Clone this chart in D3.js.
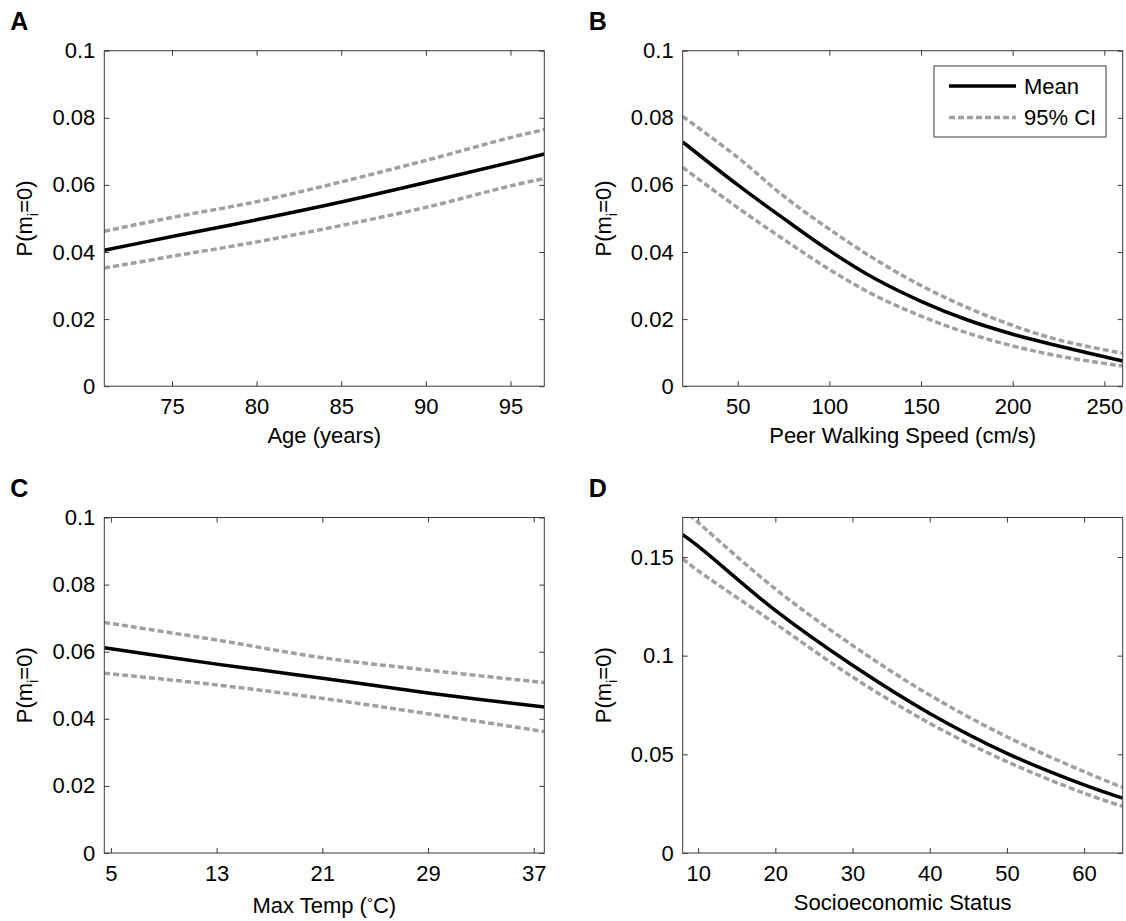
<!DOCTYPE html>
<html>
<head>
<meta charset="utf-8">
<script src="https://cdn.jsdelivr.net/npm/d3@7"></script>
<style>
  html, body { margin: 0; padding: 0; background: #fff; }
  svg { display: block; font-family: "Liberation Sans", Arial, sans-serif; }
</style>
</head>
<body>
<svg id="chart" width="1126" height="921"></svg>
<script>
// ---- Data ----
const panelLetters = ["A", "B", "C", "D"];
const xLabels = ["Age (years)", "Peer Walking Speed (cm/s)", "Max Temp (°C)", "Socioeconomic Status"];

const ageX     = [71, 75, 80, 85, 90, 95, 97];
const ageMean  = [0.0405, 0.0446, 0.0496, 0.0549, 0.0607, 0.0667, 0.0692];
const ageUpper = [0.0462, 0.0503, 0.0550, 0.0609, 0.0673, 0.0741, 0.0765];
const ageLower = [0.0352, 0.0387, 0.0430, 0.0479, 0.0533, 0.0597, 0.0619];
const ageTicks = [75, 80, 85, 90, 95];

const speedX     = [20, 50, 75, 100, 125, 150, 175, 200, 225, 260];
const speedMean  = [0.0728, 0.0600, 0.0500, 0.0404, 0.0320, 0.0253, 0.0198, 0.0155, 0.0120, 0.0075];
const speedUpper = [0.0804, 0.0682, 0.0567, 0.0468, 0.0378, 0.0300, 0.0235, 0.0181, 0.0138, 0.0098];
const speedLower = [0.0652, 0.0532, 0.0438, 0.0348, 0.0270, 0.0209, 0.0159, 0.0120, 0.0090, 0.0060];
const speedTicks = [50, 100, 150, 200, 250];

const tempX     = [4.5, 13, 21, 29, 37.8];
const tempMean  = [0.0612, 0.0563, 0.0521, 0.0477, 0.0435];
const tempUpper = [0.0687, 0.0635, 0.0582, 0.0545, 0.0508];
const tempLower = [0.0536, 0.0501, 0.0461, 0.0415, 0.0362];
const tempTicks = [5, 13, 21, 29, 37];

const sesX     = [8, 10, 20, 30, 40, 50, 60, 65];
const sesMean  = [0.1613, 0.1555, 0.1229, 0.0951, 0.0707, 0.0505, 0.0345, 0.0278];
const sesUpper = [0.1745, 0.1675, 0.1338, 0.1052, 0.0800, 0.0589, 0.0412, 0.0332];
const sesLower = [0.1490, 0.1430, 0.1162, 0.0892, 0.0657, 0.0463, 0.0303, 0.0236];
const sesTicks = [10, 20, 30, 40, 50, 60];

const yTicksSmall = [0, 0.02, 0.04, 0.06, 0.08, 0.1];
const yTicksSES   = [0, 0.05, 0.1, 0.15];

const legendLabels = ["Mean", "95% CI"];

// ---- Layout ----
const svg = d3.select("#chart");
const FS = 22;
const W = 440, H = 335.5;
const panels = [
  { letter: panelLetters[0], left: 104.3, top: 50.7, xDom: [71, 97], yDom: [0, 0.1], x: ageX, mean: ageMean, up: ageUpper, lo: ageLower, xt: ageTicks, yt: yTicksSmall, xl: xLabels[0], legend: false, labelOff: 57 },
  { letter: panelLetters[1], left: 682.7, top: 50.7, xDom: [20, 260], yDom: [0, 0.1], x: speedX, mean: speedMean, up: speedUpper, lo: speedLower, xt: speedTicks, yt: yTicksSmall, xl: xLabels[1], legend: true, labelOff: 57 },
  { letter: panelLetters[2], left: 104.3, top: 517.5, xDom: [4.5, 37.8], yDom: [0, 0.1], x: tempX, mean: tempMean, up: tempUpper, lo: tempLower, xt: tempTicks, yt: yTicksSmall, xl: xLabels[2], legend: false, labelOff: 60, degree: true },
  { letter: panelLetters[3], left: 682.7, top: 517.5, xDom: [8, 65], yDom: [0, 0.17], x: sesX, mean: sesMean, up: sesUpper, lo: sesLower, xt: sesTicks, yt: yTicksSES, xl: xLabels[3], legend: false, labelOff: 57 }
];

const axisColor = "#3a3a3a";
const ciColor = "#a0a0a0";
const fmtY = v => (v === 0 ? "0" : d3.format("")(+v.toFixed(3)));

panels.forEach((p, i) => {
  const g = svg.append("g").attr("transform", `translate(${p.left},${p.top})`);
  const xs = d3.scaleLinear().domain(p.xDom).range([0, W]);
  const ys = d3.scaleLinear().domain(p.yDom).range([H, 0]);

  const clipId = "clip" + i;
  svg.append("defs").append("clipPath").attr("id", clipId)
    .append("rect").attr("x", 0).attr("y", 0).attr("width", W).attr("height", H);

  // axes
  const styleAxis = sel => {
    sel.select(".domain").remove();
    sel.selectAll(".tick line").attr("stroke", axisColor).attr("stroke-width", 1);
    sel.selectAll(".tick text").attr("fill", "#000").style("font-size", FS + "px").style("font-family", "'Liberation Sans', Arial, sans-serif");
  };
  g.append("g").attr("transform", `translate(0,${H})`)
    .call(d3.axisBottom(xs).tickValues(p.xt).tickSizeInner(-5).tickSizeOuter(0).tickPadding(12.5).tickFormat(d3.format("d")))
    .call(styleAxis);
  g.append("g")
    .call(d3.axisTop(xs).tickValues(p.xt).tickSizeInner(-5).tickSizeOuter(0).tickFormat(""))
    .call(styleAxis);
  g.append("g")
    .call(d3.axisLeft(ys).tickValues(p.yt).tickSizeInner(-5).tickSizeOuter(0).tickPadding(9).tickFormat(fmtY))
    .call(styleAxis);
  g.append("g").attr("transform", `translate(${W},0)`)
    .call(d3.axisRight(ys).tickValues(p.yt).tickSizeInner(-5).tickSizeOuter(0).tickFormat(""))
    .call(styleAxis);

  // lines
  const pts = arr => p.x.map((xv, k) => [xv, arr[k]]);
  const line = d3.line().x(d => xs(d[0])).y(d => ys(d[1])).curve(d3.curveCatmullRom.alpha(0.5));
  const lg = g.append("g").attr("clip-path", `url(#${clipId})`);
  [p.up, p.lo].forEach(arr => {
    lg.append("path").attr("d", line(pts(arr)))
      .attr("fill", "none").attr("stroke", ciColor).attr("stroke-width", 3.5)
      .attr("stroke-dasharray", "6,3");
  });
  lg.append("path").attr("d", line(pts(p.mean)))
    .attr("fill", "none").attr("stroke", "#000").attr("stroke-width", 3.5);

  // frame
  g.append("rect").attr("x", 0).attr("y", 0).attr("width", W).attr("height", H)
    .attr("fill", "none").attr("stroke", axisColor).attr("stroke-width", 1);

  // x label
  const xt = g.append("text").attr("x", W / 2).attr("y", H + p.labelOff)
    .attr("text-anchor", "middle").style("font-size", FS + "px").attr("fill", "#000");
  if (p.degree) {
    xt.append("tspan").text("Max Temp (");
    xt.append("tspan").text("°").attr("dy", -5).style("font-size", "15px");
    xt.append("tspan").text("C)").attr("dy", 5);
  } else {
    xt.text(p.xl);
  }

  // y label
  const yl = g.append("text")
    .attr("transform", `translate(-72,${H / 2}) rotate(-90)`)
    .attr("text-anchor", "middle").style("font-size", FS + "px").attr("fill", "#000");
  yl.append("tspan").text("P(m");
  yl.append("tspan").text("i").attr("dy", 6).style("font-size", "15px");
  yl.append("tspan").text("=0)").attr("dy", -6);

  // panel letter
  svg.append("text").attr("x", p.left - 94).attr("y", p.top - 21)
    .style("font-size", "25px").style("font-weight", "bold").attr("fill", "#000")
    .text(p.letter);

  // legend
  if (p.legend) {
    const lx = 934 - p.left, ly = 66 - p.top, lw = 172, lh = 71;
    const leg = g.append("g");
    leg.append("rect").attr("x", lx).attr("y", ly).attr("width", lw).attr("height", lh)
      .attr("fill", "#fff").attr("stroke", axisColor).attr("stroke-width", 1);
    const items = [
      { label: legendLabels[0], color: "#000", dash: null },
      { label: legendLabels[1], color: ciColor, dash: "6,3" }
    ];
    items.forEach((it, k) => {
      const yy = ly + 20 + k * 31.5;
      leg.append("line").attr("x1", lx + 15).attr("x2", lx + 82).attr("y1", yy).attr("y2", yy)
        .attr("stroke", it.color).attr("stroke-width", 3.5)
        .attr("stroke-dasharray", it.dash);
      leg.append("text").attr("x", lx + 90).attr("y", yy).attr("dy", "0.35em")
        .style("font-size", FS + "px").attr("fill", "#000").text(it.label);
    });
  }
});
</script>
</body>
</html>
